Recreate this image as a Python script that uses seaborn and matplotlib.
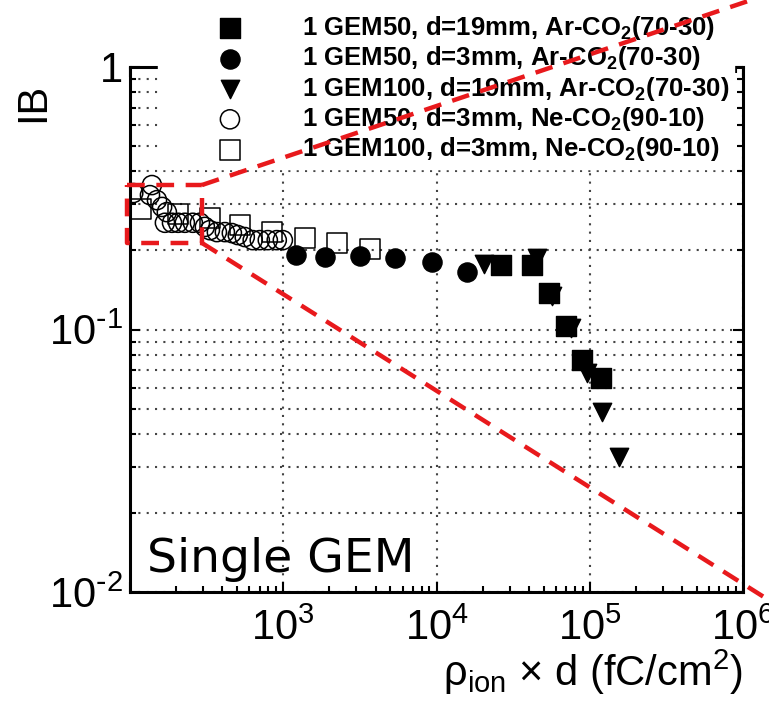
import matplotlib
matplotlib.use("Agg")
import matplotlib.pyplot as plt
import seaborn as sns
import numpy as np
import pandas as pd
from matplotlib.ticker import FixedLocator, FuncFormatter, NullFormatter, LogLocator
from matplotlib.lines import Line2D

# ---------------- data ----------------
ar_gem50_d19_x = [26500, 42200, 54400, 70300, 89400, 119000]
ar_gem50_d19_y = [0.176, 0.176, 0.138, 0.103, 0.0765, 0.0656]

ar_gem50_d3_x = [1220, 1860, 3150, 5400, 9300, 15700]
ar_gem50_d3_y = [0.192, 0.189, 0.190, 0.187, 0.181, 0.166]

ar_gem100_d19_x = [20500, 45500, 57000, 75900, 96400, 120000, 156000]
ar_gem100_d19_y = [0.177, 0.187, 0.134, 0.101, 0.0683, 0.0485, 0.0327]

ne_gem50_d3_x = [105, 135, 139, 150, 162, 169, 174, 188, 206, 228, 257, 286,
                 308, 332, 369, 416, 462, 505, 561, 632, 703, 793, 907, 994]
ne_gem50_d3_y = [0.331, 0.325, 0.355, 0.311, 0.293, 0.255, 0.280, 0.255, 0.255,
                 0.255, 0.255, 0.255, 0.246, 0.239, 0.235, 0.235, 0.233, 0.229,
                 0.225, 0.219, 0.219, 0.219, 0.219, 0.219]

ne_gem100_d3_x = [118, 205, 332, 521, 841, 1380, 2230, 3660]
ne_gem100_d3_y = [0.288, 0.275, 0.266, 0.250, 0.235, 0.223, 0.214, 0.203]

labels = [
    "1 GEM50, d=19mm, Ar-CO$_2$(70-30)",
    "1 GEM50, d=3mm, Ar-CO$_2$(70-30)",
    "1 GEM100, d=19mm, Ar-CO$_2$(70-30)",
    "1 GEM50, d=3mm, Ne-CO$_2$(90-10)",
    "1 GEM100, d=3mm, Ne-CO$_2$(90-10)",
]
x_ticks = [1e2, 1e3, 1e4, 1e5, 1e6]
x_tick_labels = ["", "$10^{3}$", "$10^{4}$", "$10^{5}$", "$10^{6}$"]
y_ticks = [1e-2, 1e-1, 1]
y_tick_labels = [r"$10^{\text{-}2}$", r"$10^{\text{-}1}$", "1"]

# ---------------- style ----------------
sns.set_theme(style="ticks")
plt.rcParams.update({
    "font.family": ["Liberation Sans", "DejaVu Sans"],
    "mathtext.default": "regular",
    "xtick.direction": "in",
    "ytick.direction": "in",
    "axes.linewidth": 2.2,
    "text.color": "black",
    "axes.labelcolor": "black",
    "xtick.color": "black",
    "ytick.color": "black",
    "xtick.labelcolor": "black",
    "ytick.labelcolor": "black",
})

W, H = 769, 710
fig = plt.figure(figsize=(W / 100, H / 100), dpi=100)
ax_l, ax_r, ax_t, ax_b = 130, 743, 67, 592
ax = fig.add_axes([ax_l / W, 1 - ax_b / H, (ax_r - ax_l) / W, (ax_b - ax_t) / H])

series = [
    (ar_gem50_d19_x, ar_gem50_d19_y, "s", True, 210),
    (ar_gem50_d3_x, ar_gem50_d3_y, "o", True, 190),
    (ar_gem100_d19_x, ar_gem100_d19_y, "v", True, 175),
    (ne_gem50_d3_x, ne_gem50_d3_y, "o", False, 190),
    (ne_gem100_d3_x, ne_gem100_d3_y, "s", False, 210),
]
for (xs, ys, mk, filled, s), lab in zip(series, labels):
    df = pd.DataFrame({"x": xs, "y": ys})
    sns.scatterplot(data=df, x="x", y="y", marker=mk, s=s,
                    facecolor="black" if filled else "none",
                    edgecolor="black", linewidth=1.0 if filled else 1.1,
                    label=lab, legend=False, ax=ax, zorder=3)

ax.set_xscale("log")
ax.set_yscale("log")
ax.set_xlim(1e2, 1e6)
ax.set_ylim(1e-2, 1)

ax.xaxis.set_major_locator(FixedLocator(x_ticks))
ax.xaxis.set_major_formatter(FuncFormatter(lambda v, p: x_tick_labels[x_ticks.index(v)] if v in x_ticks else ""))
ax.xaxis.set_minor_locator(LogLocator(base=10, subs=np.arange(2, 10), numticks=20))
ax.xaxis.set_minor_formatter(NullFormatter())
ax.yaxis.set_major_locator(FixedLocator(y_ticks))
ax.yaxis.set_major_formatter(FuncFormatter(lambda v, p: y_tick_labels[y_ticks.index(v)] if v in y_ticks else ""))
ax.yaxis.set_minor_locator(LogLocator(base=10, subs=np.arange(2, 10), numticks=20))
ax.yaxis.set_minor_formatter(NullFormatter())

ax.tick_params(which="both", top=True, right=True, direction="in", width=1.5,
               color="black", labelcolor="black")
ax.tick_params(which="major", length=7)
ax.tick_params(which="minor", length=4.5)
ax.tick_params(axis="x", which="major", labelsize=30, pad=12)
ax.tick_params(axis="y", which="major", labelsize=30, pad=5)

ax.set_axisbelow(True)
ax.xaxis.grid(True, which="major", linestyle=(0, (1, 3)), linewidth=1.5, color="#444444")
ax.yaxis.grid(True, which="both", linestyle=(0, (1, 3)), linewidth=1.5, color="#444444")
for sp in ax.spines.values():
    sp.set_linewidth(2.2)
    sp.set_color("black")

ax.set_xlabel("ρ$_{ion}$ × d (fC/cm$^{2}$)", fontsize=30, loc="right", color="black")
ax.xaxis.set_label_coords(1.0, -0.105)
ax.set_ylabel("IB", fontsize=30, loc="top", color="black")
ax.yaxis.set_label_coords(-0.125, 0.97)

ax.text(0.028, 0.038, "Single GEM", transform=ax.transAxes, fontsize=34,
        family="DejaVu Sans", ha="left", va="baseline", color="black")

fs_leg = 18.5
leg = ax.legend(loc="upper left", bbox_to_anchor=(158 / W, 1 - 9 / H),
                bbox_transform=fig.transFigure, frameon=True, fancybox=False,
                edgecolor="white", facecolor="white", framealpha=1.0,
                prop={"family": "Liberation Sans", "weight": "bold", "size": fs_leg},
                handlelength=5.2, handletextpad=0.2, borderpad=0.2,
                labelspacing=0.09, borderaxespad=0, scatterpoints=1)
leg.set_zorder(5)
for t in leg.get_texts():
    t.set_color("black")

# red dashed zoom overlay, drawn in figure pixel coordinates
red = "#e8191c"
def fig_line(xs, ys):
    fig.add_artist(Line2D([x / W for x in xs], [1 - y / H for y in ys],
                          transform=fig.transFigure, color=red, linewidth=3.2,
                          linestyle=(0, (4, 2.6)), zorder=10, solid_capstyle="butt"))

fig_line([127, 202, 202, 127, 127], [185, 185, 243, 243, 185])
fig_line([202, 775], [185, -8])
fig_line([202, 775], [243, 604])

fig.savefig("out.png", dpi=100)
